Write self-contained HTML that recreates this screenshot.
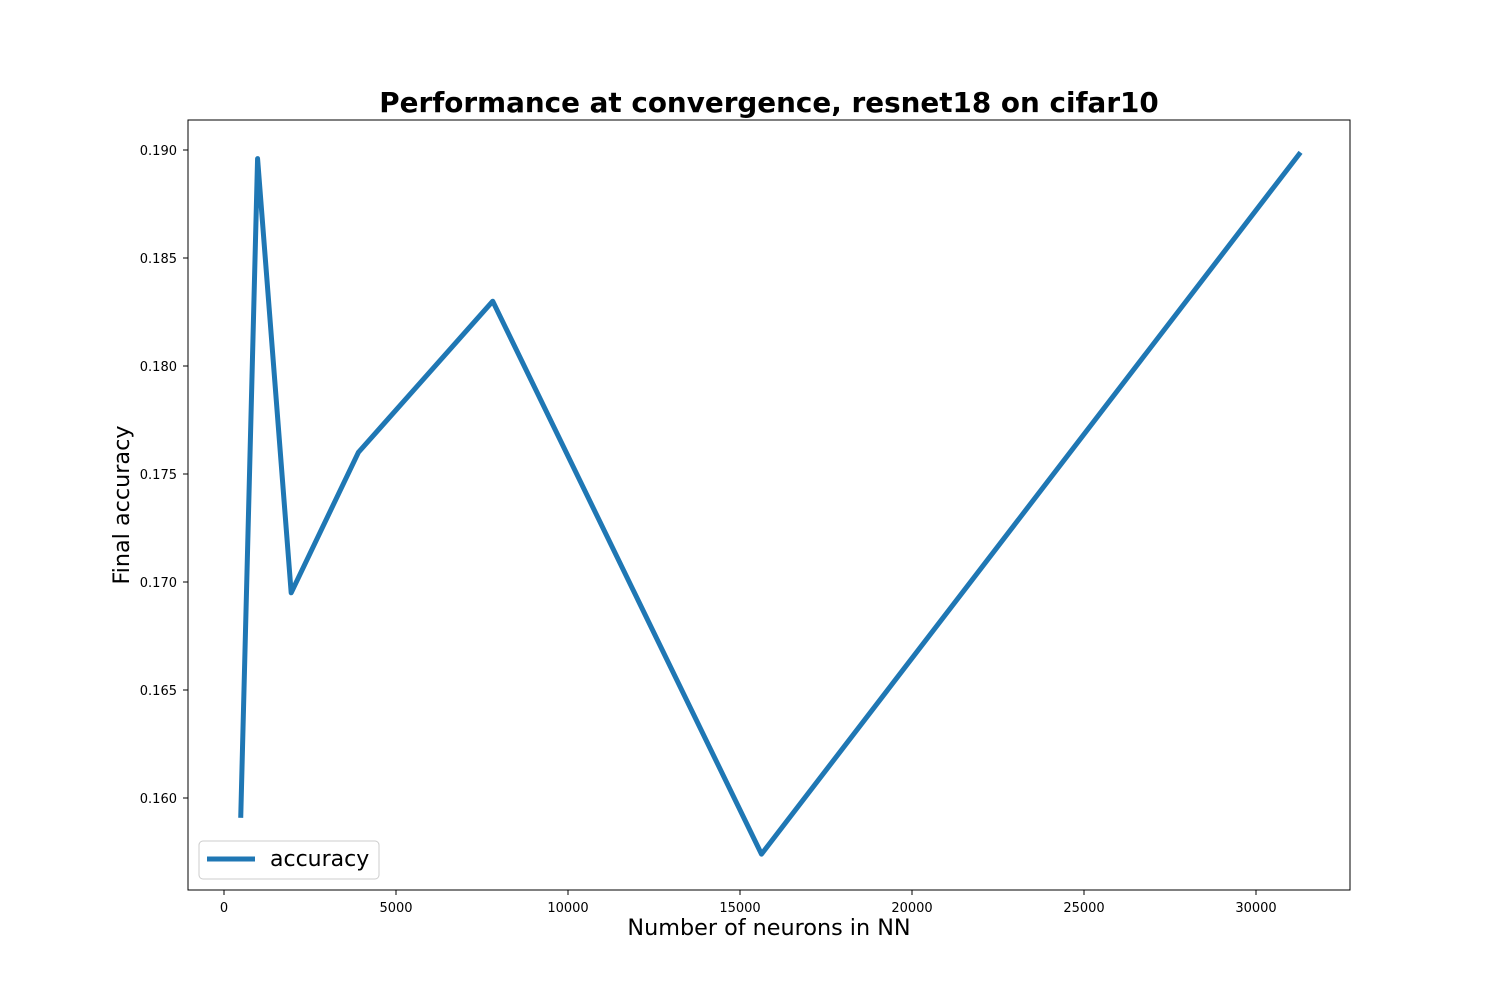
<!DOCTYPE html>
<html><head><meta charset="utf-8"><style>
body{margin:0;background:#fff;}
svg text{font-family:"DejaVu Sans","Liberation Sans",sans-serif;}
</style></head><body>
<svg id="chart" width="1500" height="1000" xmlns="http://www.w3.org/2000/svg">
<rect width="1500" height="1000" fill="#fff"/>
<text x="769" y="112" font-size="27.8" font-weight="bold" text-anchor="middle">Performance at convergence, resnet18 on cifar10</text>
<g id="xticks"></g>
<g id="yticks"></g>
<g id="series"></g>
<rect x="188" y="120" width="1162" height="770" fill="none" stroke="#000" stroke-width="1"/>
<text x="769" y="935" font-size="22.3" text-anchor="middle">Number of neurons in NN</text>
<text transform="translate(129,505) rotate(-90)" font-size="22.3" text-anchor="middle">Final accuracy</text>
<g>
<rect x="199" y="841" width="180" height="38" rx="4" fill="#fff" stroke="#ccc"/>
<line x1="207" y1="859" x2="255" y2="859" stroke="#1f77b4" stroke-width="5"/>
<text x="270" y="866" font-size="22">accuracy</text>
</g>
</svg>
<script>
const xValues=[488,976,1953,3906,7812,15625,31250];
const accuracy=[0.1592,0.1896,0.1695,0.1760,0.1830,0.1574,0.1898];
const xTicks=[0,5000,10000,15000,20000,25000,30000];
const yTicks=[0.160,0.165,0.170,0.175,0.180,0.185,0.190];
const NS="http://www.w3.org/2000/svg";
function xs(v){return 224+v*0.0344;}
function ys(v){return 150+(0.190-v)*21600;}
function mk(t,a){const e=document.createElementNS(NS,t);for(const k in a)e.setAttribute(k,a[k]);return e;}
const gx=document.getElementById('xticks'),gy=document.getElementById('yticks'),gs=document.getElementById('series');
xTicks.forEach(v=>{
 const l=mk('line',{x1:xs(v),x2:xs(v),y1:890,y2:895,stroke:'#000'});
 
 
 gx.appendChild(l);
 const t=mk('text',{x:xs(v),y:912,'font-size':13,'text-anchor':'middle'});
 
 
 t.textContent=v;gx.appendChild(t);
});
yTicks.forEach(v=>{
 const l=mk('line',{x1:183,x2:188,y1:ys(v),y2:ys(v),stroke:'#000'});
 
 
 gy.appendChild(l);
 const t=mk('text',{x:177,y:ys(v)+5,'font-size':13,'text-anchor':'end'});
 
 
 t.textContent=v.toFixed(3);gy.appendChild(t);
});
const pts=xValues.map((x,i)=>xs(x)+','+ys(accuracy[i])).join(' ');
const pl=mk('polyline',{points:pts,fill:'none',stroke:'#1f77b4','stroke-width':5,'stroke-linejoin':'round','stroke-linecap':'square'});


gs.appendChild(pl);
</script>
</body></html>
